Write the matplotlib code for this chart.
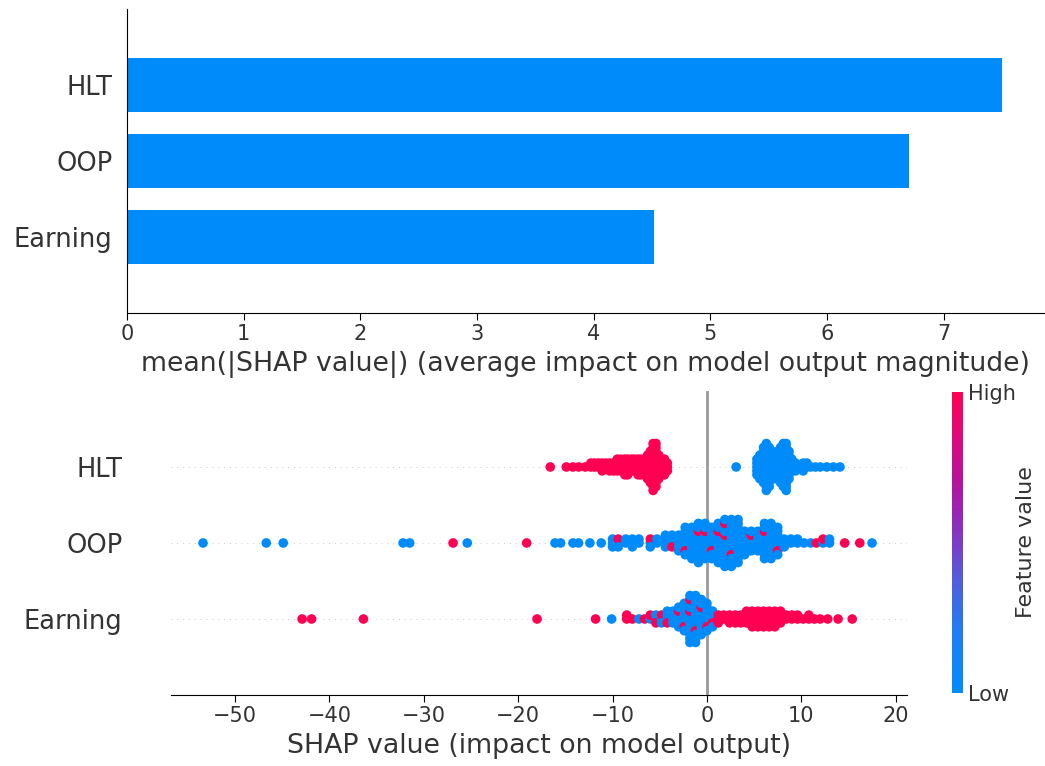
import numpy as np
import matplotlib
matplotlib.use('Agg')
import matplotlib.pyplot as plt
from matplotlib.colors import LinearSegmentedColormap

# ---- data ----
features = ['HLT', 'OOP', 'Earning']
mean_abs_shap = [7.50, 6.70, 4.52]

# beeswarm: shap value positions, number of low / high feature value points there
hlt_x  = [-16.6, -14.9, -14.2, -13.6, -12.9, -12.3, -11.9, -11.5, -11.1, -10.7, -10.3, -9.9, -9.5, -9.1,
          -8.7, -8.4, -8.0, -7.7, -7.3, -7.0, -6.6, -6.3, -6.0, -5.7, -5.4, -5.1, -4.8, -4.5, -4.2,
          3.1, 5.3, 5.6, 6.0, 6.3, 6.6, 6.9, 7.2, 7.5, 7.8, 8.1, 8.4, 8.7, 9.0, 9.4, 9.8, 10.2, 10.6,
          11.0, 11.5, 12.0, 12.7, 13.4, 14.1]
hlt_lo = [0] * 29 + [1, 5, 7, 10, 13, 11, 8, 7, 8, 10, 12, 13, 8, 4, 3, 1, 3, 2, 1, 1, 1, 1, 1, 1]
hlt_hi = [1, 1, 1, 1, 1, 2, 2, 2, 3, 2, 3, 3, 4, 4, 5, 5, 4, 4, 5, 5, 5, 7, 9, 13, 12, 7, 5, 5, 3] + [0] * 24

oop_x  = [-53.4, -46.7, -44.9, -32.2, -31.5, -26.9, -25.4, -19.1, -16.1, -15.5, -14.2, -13.6, -12.4, -11.2,
          -10.0, -9.4, -8.6, -7.9, -7.2, -6.0, -5.3, -4.4, -3.7, -3.0, -2.3, -1.6, -0.9, -0.2, 0.5, 1.2,
          1.9, 2.6, 3.3, 4.0, 4.7, 5.4, 6.1, 6.8, 7.5, 8.2, 8.9, 9.6, 10.3, 11.0, 11.6, 12.3, 13.0, 14.6,
          16.2, 17.5]
oop_lo = [1, 1, 1, 1, 1, 0, 1, 0, 1, 1, 1, 1, 1, 1,
          3, 2, 2, 3, 2, 2, 2, 4, 3, 5, 7, 9, 10, 9, 8, 10,
          11, 12, 12, 7, 5, 6, 9, 10, 7, 3, 2, 2, 1, 1, 0, 1, 2, 0,
          0, 1]
oop_hi = [0, 0, 0, 0, 0, 1, 0, 1, 0, 0, 0, 0, 0, 0,
          0, 1, 0, 0, 0, 1, 0, 0, 1, 0, 1, 0, 1, 1, 1, 1,
          2, 1, 0, 0, 1, 0, 1, 0, 1, 0, 0, 0, 0, 0, 1, 1, 0, 1,
          1, 0]

earn_x  = [-42.9, -41.9, -36.4, -18.0, -11.8, -10.1, -8.5, -7.9, -7.2, -6.6, -6.0, -5.4, -4.8, -4.2,
           -3.6, -3.0, -2.4, -1.8, -1.2, -0.6, 0.0, 0.6, 1.2, 1.8, 2.4, 3.0, 3.6, 4.2, 4.8, 5.4,
           6.0, 6.6, 7.2, 7.8, 8.4, 9.0, 9.6, 10.2, 10.8, 11.4, 12.0, 12.8, 13.9, 15.4]
earn_lo = [0, 0, 0, 0, 0, 1, 0, 0, 1, 0, 1, 1, 2, 3,
           4, 5, 7, 11, 12, 9, 7, 4, 0, 0, 0, 0, 0, 0, 0, 0,
           0, 0, 0, 0, 0, 0, 0, 0, 0, 0, 0, 0, 0, 0]
earn_hi = [1, 1, 1, 1, 1, 0, 2, 1, 0, 1, 1, 2, 1, 1,
           0, 1, 1, 2, 1, 1, 1, 1, 3, 2, 3, 3, 3, 4, 5, 5,
           5, 5, 5, 4, 2, 2, 2, 1, 2, 1, 1, 1, 1, 1]

bar_color = '#008bfb'
text_color = '#333333'

red_blue = LinearSegmentedColormap.from_list('red_blue', [
    (0.0, '#008bfb'), (0.2, '#1f7ef2'), (0.4, '#5a58d6'), (0.55, '#8c2fbf'),
    (0.7, '#b4139e'), (0.85, '#dc0a7a'), (1.0, '#ff0052')])


def expand(xs, n_lo, n_hi):
    # one point per sample; high points spread evenly through the low ones
    vals, feats, bins = [], [], []
    for b, (x, lo, hi) in enumerate(zip(xs, n_lo, n_hi)):
        n = lo + hi
        seq = [0.0] * n
        for j in range(hi):
            seq[int((j + 0.5) * n / hi)] = 1.0
        vals += [x] * n
        feats += seq
        bins += [b] * n
    return np.array(vals), np.array(feats), np.array(bins)


def swarm_offsets(bins, row_height=0.4):
    layer = 0
    last_bin = -1
    ys = np.zeros(len(bins))
    for ind in range(len(bins)):
        if bins[ind] != last_bin:
            layer = 0
        ys[ind] = np.ceil(layer / 2) * ((layer % 2) * 2 - 1)
        layer += 1
        last_bin = bins[ind]
    ys *= 0.9 * (row_height / np.max(ys + 1))
    return ys


fig = plt.figure(figsize=(10.45, 7.66), dpi=100)

# ---- top: mean |SHAP| bar chart ----
ax1 = fig.add_axes([0.1215, 0.5914, 0.8785, 0.3969])
y_pos = [3, 2, 1]
ax1.barh(y_pos, mean_abs_shap, 0.7, align='center', color=bar_color)
ax1.set_ylim(0, 4)
ax1.set_xlim(0, 7.87)
ax1.set_yticks(y_pos)
ax1.set_yticklabels(features, fontsize=18.5, color=text_color)
ax1.tick_params('y', length=0, pad=10.5)
ax1.tick_params('x', labelsize=15, labelcolor=text_color, length=5, pad=3)
ax1.spines['right'].set_visible(False)
ax1.spines['top'].set_visible(False)
ax1.set_xlabel('mean(|SHAP value|) (average impact on model output magnitude)',
               fontsize=19.3, color=text_color, labelpad=5)

# ---- bottom: beeswarm ----
ax2 = fig.add_axes([0.1636, 0.0927, 0.7043, 0.3969])
ax2.axvline(0, color='#999999', lw=2, zorder=-1)
rows = [(hlt_x, hlt_lo, hlt_hi), (oop_x, oop_lo, oop_hi), (earn_x, earn_lo, earn_hi)]
for i, (xs, lo, hi) in enumerate(rows):
    pos = len(rows) - 1 - i
    ax2.axhline(pos, color='#cccccc', lw=0.7, dashes=(1, 5), zorder=-1)
    vals, feats, bins = expand(xs, lo, hi)
    ys = swarm_offsets(bins)
    ax2.scatter(vals, pos + ys, c=feats, cmap=red_blue, vmin=0, vmax=1,
                s=48, linewidth=0, alpha=1, zorder=3)
ax2.set_ylim(-1, 3)
ax2.set_xlim(-56.8, 21.2)
ax2.set_yticks([2, 1, 0])
ax2.set_yticklabels(features, fontsize=18.5, color=text_color)
ax2.tick_params('y', length=0, pad=35)
ax2.tick_params('x', labelsize=15, labelcolor=text_color, length=5, pad=3)
for side in ['left', 'right', 'top']:
    ax2.spines[side].set_visible(False)
ax2.set_xlabel('SHAP value (impact on model output)', fontsize=19.3, color=text_color, labelpad=5)

# ---- colorbar ----
cax = fig.add_axes([0.911, 0.0953, 0.0105, 0.393])
m = plt.cm.ScalarMappable(cmap=red_blue)
m.set_array([0, 1])
cb = fig.colorbar(m, cax=cax, ticks=[0, 1])
cb.set_ticklabels(['Low', 'High'])
cb.ax.tick_params(labelsize=15, length=0, labelcolor=text_color)
cb.set_label('Feature value', size=16, labelpad=0, color=text_color)
cb.outline.set_visible(False)

fig.savefig('out.png', dpi=100)
